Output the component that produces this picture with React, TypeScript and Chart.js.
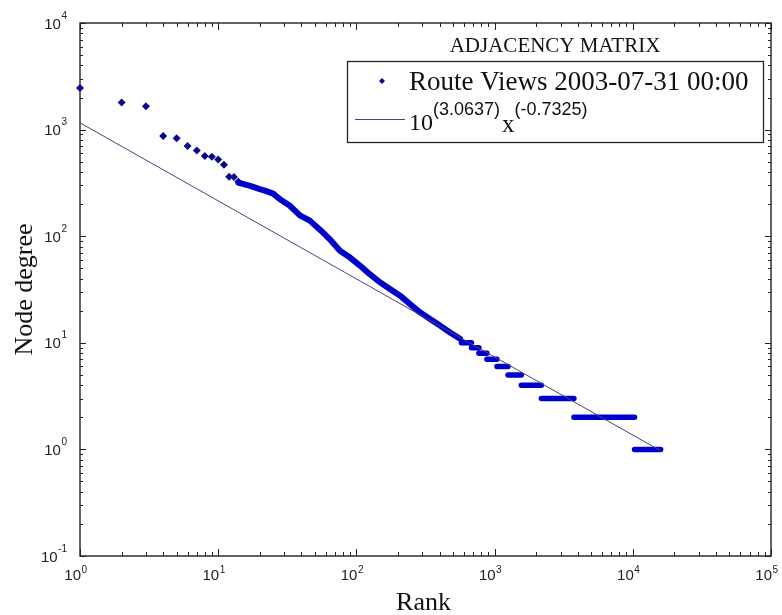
import React, { useEffect, useRef } from "react";
import { Chart, registerables } from "chart.js";

Chart.register(...registerables);

const WIDTH = 782;
const HEIGHT = 615;

// Individually visible top-ranked nodes (rank, degree)
const topRanks = [1, 2, 3, 4, 5, 6, 7, 8, 9, 10, 11, 12, 13, 14];
const topDegrees = [2460, 1800, 1660, 870, 830, 700, 635, 566, 557, 523, 469, 362, 360, 325];

// Dense band of overlapping markers (rank, degree)
const bandRanks = [14, 17, 20, 22, 25, 28, 33, 39, 46, 55, 64, 76, 90, 106, 125, 148, 175, 207, 244, 288, 341, 403, 476, 562];
const bandDegrees = [318, 296, 276, 266, 251, 222, 193, 157, 140, 114, 94, 73, 63, 53, 44, 37, 32, 27.7, 23.1, 19.3, 16.7, 14.5, 12.5, 10.9];

// Flat steps of equal degree (degree, first rank, last rank)
const stepDegrees = [10, 9, 8, 7, 6, 5, 4, 3, 2, 1];
const stepRankStart = [575, 680, 770, 880, 1040, 1250, 1560, 2180, 3750, 10300];
const stepRankEnd = [680, 770, 880, 1040, 1250, 1560, 2180, 3750, 10300, 15900];

// Power-law fit end points
const fitRanks = [1, 15900];
const fitDegrees = [1158, 0.97];

// Axis decades (exponents)
const xDecades = [0, 1, 2, 3, 4, 5];
const yDecades = [-1, 0, 1, 2, 3, 4];

const xTitle = "Rank";
const yTitle = "Node degree";
const legendTitle = "ADJACENCY MATRIX";
const seriesLabel = "Route Views 2003-07-31 00:00";
const fitBase = "10";
const fitExp1 = "(3.0637)";
const fitVar = "x";
const fitExp2 = "(-0.7325)";

const MARKER = "#0a0a8c";
const BAND = "#0000cc";
const FIT = "#44447e";
const AXIS = "#222222";
const SANS = '"Liberation Sans", Arial, sans-serif';
const SERIF = '"Liberation Serif", "Times New Roman", serif';

const matlabPlugin = {
  id: "matlabAxes",
  beforeDatasetsDraw(chart: any) {
    const { ctx, chartArea: a, scales } = chart;
    const xs = scales.x;
    const ys = scales.y;
    ctx.save();
    // ticks (inward on all four sides)
    ctx.strokeStyle = AXIS;
    ctx.lineWidth = 1;
    ctx.beginPath();
    xDecades.forEach((d, i) => {
      for (let k = 1; k <= 9; k++) {
        if (i === xDecades.length - 1 && k > 1) break;
        const px = Math.round(xs.getPixelForValue(k * Math.pow(10, d))) + 0.5;
        const len = k === 1 ? 7 : 4;
        ctx.moveTo(px, a.bottom);
        ctx.lineTo(px, a.bottom - len);
        ctx.moveTo(px, a.top);
        ctx.lineTo(px, a.top + len);
      }
    });
    yDecades.forEach((d, i) => {
      for (let k = 1; k <= 9; k++) {
        if (i === yDecades.length - 1 && k > 1) break;
        const py = Math.round(ys.getPixelForValue(k * Math.pow(10, d))) + 0.5;
        const len = k === 1 ? 6 : 3;
        ctx.moveTo(a.left, py);
        ctx.lineTo(a.left + len, py);
        ctx.moveTo(a.right, py);
        ctx.lineTo(a.right - len, py);
      }
    });
    ctx.stroke();
    // box
    ctx.lineWidth = 1.4;
    ctx.strokeRect(a.left, a.top, a.right - a.left, a.bottom - a.top);

    // x tick labels
    ctx.fillStyle = "#222";
    ctx.textBaseline = "alphabetic";
    xDecades.forEach((d) => {
      const px = xs.getPixelForValue(Math.pow(10, d));
      ctx.font = `15px ${SANS}`;
      ctx.textAlign = "right";
      ctx.fillText("10", px + 1, a.bottom + 24);
      ctx.font = `10px ${SANS}`;
      ctx.textAlign = "left";
      ctx.fillText(String(d), px + 1.5, a.bottom + 17);
    });
    // y tick labels
    yDecades.forEach((d) => {
      const py = ys.getPixelForValue(Math.pow(10, d));
      const exp = String(d);
      ctx.font = `10px ${SANS}`;
      const ew = ctx.measureText(exp).width;
      const right = a.left - 13;
      ctx.textAlign = "left";
      ctx.fillText(exp, right - ew, py - 4.5);
      ctx.font = `15px ${SANS}`;
      ctx.textAlign = "right";
      ctx.fillText("10", right - ew - 0.5, py + 5.5);
    });

    // axis titles
    ctx.fillStyle = "#111";
    ctx.font = `26px ${SERIF}`;
    ctx.textAlign = "center";
    ctx.fillText(xTitle, (a.left + a.right) / 2 - 2, a.bottom + 54);
    ctx.save();
    ctx.translate(32, (a.top + a.bottom) / 2);
    ctx.rotate(-Math.PI / 2);
    ctx.fillText(yTitle, 0, 0);
    ctx.restore();
    ctx.restore();
  },
  afterDatasetsDraw(chart: any) {
    const { ctx } = chart;
    ctx.save();
    // legend title
    ctx.fillStyle = "#111";
    ctx.font = `21px ${SERIF}`;
    ctx.textAlign = "center";
    ctx.textBaseline = "alphabetic";
    ctx.fillText(legendTitle, 555, 52);
    // legend box
    ctx.fillStyle = "#fff";
    ctx.fillRect(347.5, 61.5, 416, 81);
    ctx.strokeStyle = AXIS;
    ctx.lineWidth = 1.3;
    ctx.strokeRect(347.5, 61.5, 416, 81);
    // entry 1: marker + label
    ctx.fillStyle = MARKER;
    ctx.beginPath();
    ctx.moveTo(382, 78);
    ctx.lineTo(385, 81);
    ctx.lineTo(382, 84);
    ctx.lineTo(379, 81);
    ctx.closePath();
    ctx.fill();
    ctx.fillStyle = "#111";
    ctx.textAlign = "left";
    ctx.font = `27px ${SERIF}`;
    ctx.fillText(seriesLabel, 409, 90);
    // entry 2: line + formula
    ctx.strokeStyle = FIT;
    ctx.lineWidth = 1.2;
    ctx.beginPath();
    ctx.moveTo(355, 119.5);
    ctx.lineTo(405, 119.5);
    ctx.stroke();
    let x = 409;
    ctx.font = `24px ${SERIF}`;
    ctx.fillText(fitBase, x, 130);
    x += ctx.measureText(fitBase).width;
    ctx.font = `18px ${SANS}`;
    ctx.fillText(fitExp1, x, 115);
    x += ctx.measureText(fitExp1).width + 2;
    ctx.font = `25px ${SERIF}`;
    ctx.fillText(fitVar, x, 132);
    x += ctx.measureText(fitVar).width;
    ctx.font = `18px ${SANS}`;
    ctx.fillText(fitExp2, x, 115);
    ctx.restore();
  },
};

export default function App() {
  const canvasRef = useRef<HTMLCanvasElement | null>(null);

  useEffect(() => {
    const canvas = canvasRef.current;
    if (!canvas) return;

    const stepData: any[] = [];
    stepDegrees.forEach((deg, i) => {
      stepData.push({ x: stepRankStart[i], y: deg });
      stepData.push({ x: stepRankEnd[i], y: deg });
      stepData.push({ x: stepRankEnd[i], y: null });
    });

    const chart = new Chart(canvas, {
      type: "line",
      data: {
        datasets: [
          {
            label: "fit",
            data: fitRanks.map((r, i) => ({ x: r, y: fitDegrees[i] })),
            borderColor: FIT,
            borderWidth: 1,
            pointRadius: 0,
            tension: 0,
          },
          {
            label: "band",
            data: bandRanks.map((r, i) => ({ x: r, y: bandDegrees[i] })),
            borderColor: BAND,
            borderWidth: 6,
            borderCapStyle: "round",
            borderJoinStyle: "round",
            pointRadius: 0,
            tension: 0,
          },
          {
            label: "steps",
            data: stepData,
            borderColor: BAND,
            borderWidth: 5.5,
            borderCapStyle: "round",
            pointRadius: 0,
            spanGaps: false,
            tension: 0,
          },
          {
            label: seriesLabel,
            data: topRanks.map((r, i) => ({ x: r, y: topDegrees[i] })),
            showLine: false,
            pointStyle: "rectRot",
            pointRadius: 4,
            backgroundColor: MARKER,
            borderColor: MARKER,
            borderWidth: 0,
            clip: false,
          } as any,
        ],
      },
      options: {
        responsive: false,
        animation: false,
        devicePixelRatio: 1,
        layout: { padding: { left: 80, top: 23, right: 11, bottom: 59 } },
        scales: {
          x: { type: "logarithmic", min: 1, max: 100000, display: false },
          y: { type: "logarithmic", min: 0.1, max: 10000, display: false },
        },
        plugins: {
          legend: { display: false },
          tooltip: { enabled: false },
        },
        events: [],
      } as any,
      plugins: [matlabPlugin],
    });

    return () => chart.destroy();
  }, []);

  return (
    <div style={{ position: "absolute", left: 0, top: 0, width: WIDTH, height: HEIGHT, background: "#fff" }}>
      <canvas ref={canvasRef} width={WIDTH} height={HEIGHT} style={{ display: "block" }} />
    </div>
  );
}
